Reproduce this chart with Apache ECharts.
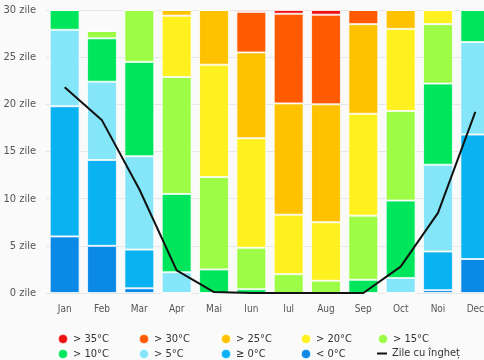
<!DOCTYPE html>
<html>
<head>
<meta charset="utf-8">
<script src="https://cdn.jsdelivr.net/npm/echarts@6/dist/echarts.min.js"></script>
<style>
  html, body { margin: 0; padding: 0; background: #fafafa; }
  #chart { width: 484px; height: 360px; }
</style>
</head>
<body>
<div id="chart"></div>
<script>
// Months
const months = ['Jan', 'Feb', 'Mar', 'Apr', 'Mai', 'Iun', 'Iul', 'Aug', 'Sep', 'Oct', 'Noi', 'Dec'];

// Days per month in each maximum-temperature band (stacked bottom to top)
const below0 = [6.0, 5.0, 0.5, 0, 0, 0, 0, 0, 0, 0, 0.3, 3.6];
const from0  = [13.8, 9.1, 4.1, 0, 0, 0, 0, 0, 0, 0, 4.1, 13.2];
const over5  = [8.1, 8.3, 9.9, 2.2, 0, 0, 0, 0, 0, 1.6, 9.2, 9.8];
const over10 = [2.1, 4.6, 10.0, 8.3, 2.5, 0.4, 0, 0, 1.4, 8.2, 8.6, 3.4];
const over15 = [0, 0.8, 5.5, 12.4, 9.8, 4.4, 2.0, 1.3, 6.8, 9.5, 6.3, 0];
const over20 = [0, 0, 0, 6.5, 11.9, 11.6, 6.3, 6.2, 10.8, 8.7, 1.5, 0];
const over25 = [0, 0, 0, 0.6, 5.8, 9.1, 11.8, 12.5, 9.5, 2.0, 0, 0];
const over30 = [0, 0, 0, 0, 0, 4.3, 9.5, 9.5, 1.5, 0, 0, 0];
const over35 = [0, 0, 0, 0, 0, 0.2, 0.4, 0.5, 0, 0, 0, 0];

// Days with frost
const frostDays = [21.8, 18.3, 11.0, 2.4, 0.1, 0, 0, 0, 0, 2.8, 8.5, 19.2];

// Band names, bottom to top
const bandNames = ['< 0°C', '≥ 0°C', '> 5°C', '> 10°C', '> 15°C', '> 20°C', '> 25°C', '> 30°C', '> 35°C'];
const bandValues = [below0, from0, over5, over10, over15, over20, over25, over30, over35];
const bandColors = ['#0a8ae6', '#0bb2f2', '#84e6f8', '#00e65c', '#9cfc46', '#fff01f', '#ffc200', '#ff5a00', '#ee1111'];
const frostName = 'Zile cu îngheț';

const yTicks = { min: 0, max: 30, interval: 5, suffix: ' zile' };

const FONT = "'Liberation Sans Narrow', 'DejaVu Sans Condensed', 'Liberation Sans', sans-serif";

// Legend order: warmest first, frost line last; 5 columns x 2 rows
const legendOrder = bandNames.slice().reverse().concat([frostName]);
const legendCols = [57, 138, 220, 300, 377];
const legendRows = [333, 348];

const series = bandNames.map((name, i) => ({
  name: name,
  type: 'bar',
  stack: 'days',
  barCategoryGap: '20%',
  data: bandValues[i],
  itemStyle: {
    color: bandColors[i],
    borderColor: 'rgba(255,255,255,0.75)',
    borderWidth: 1
  },
  emphasis: { disabled: true }
}));

series.push({
  name: frostName,
  type: 'line',
  data: frostDays,
  symbol: 'none',
  z: 10,
  lineStyle: { color: '#111', width: 2 },
  itemStyle: { color: '#111' }
});

const legends = legendOrder.map((name, i) => ({
  data: [name],
  left: legendCols[i % 5],
  top: legendRows[Math.floor(i / 5)],
  padding: 0,
  itemWidth: 10,
  itemHeight: 10,
  icon: name === frostName ? 'path://M0,0h10v2h-10z' : 'circle',
  symbolKeepAspect: true,
  selectedMode: false,
  textStyle: { fontSize: 11, color: '#333', fontFamily: FONT }
}));

const chart = echarts.init(document.getElementById('chart'), null, { renderer: 'canvas' });
chart.setOption({
  animation: false,
  backgroundColor: '#fafafa',
  textStyle: { fontFamily: FONT },
  grid: { left: 46, top: 10, width: 448, height: 283, containLabel: false, outerBoundsMode: 'none' },
  legend: legends,
  xAxis: {
    type: 'category',
    data: months,
    axisLine: { show: false },
    axisTick: { show: false },
    axisLabel: { color: '#555', fontSize: 10, margin: 11, fontFamily: FONT }
  },
  yAxis: {
    type: 'value',
    min: yTicks.min,
    max: yTicks.max,
    interval: yTicks.interval,
    axisLine: { show: false },
    axisTick: { show: false },
    axisLabel: { color: '#555', fontSize: 11, margin: 10, fontFamily: FONT,
                 formatter: v => v + yTicks.suffix },
    splitLine: { lineStyle: { color: '#e6e6e6', width: 1 } }
  },
  series: series
});
</script>
</body>
</html>
